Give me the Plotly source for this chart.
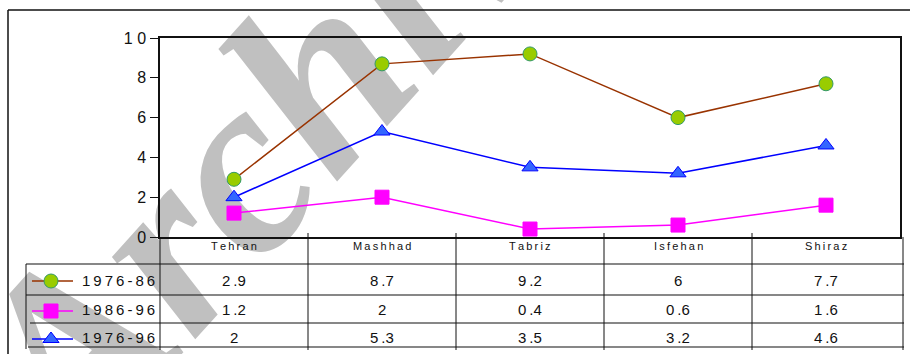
import plotly.graph_objects as go

W, H = 910, 354

cities = ["Tehran", "Mashhad", "Tabriz", "Isfehan", "Shiraz"]
periods = ["1976-86", "1986-96", "1976-96"]
growth_7686 = [2.9, 8.7, 9.2, 6, 7.7]
growth_8696 = [1.2, 2, 0.4, 0.6, 1.6]
growth_7696 = [2, 5.3, 3.5, 3.2, 4.6]
y_ticks = [0, 2, 4, 6, 8, 10]

series = [growth_7686, growth_8696, growth_7696]
line_colors = ["#993300", "#ff00ff", "#0000ff"]
marker_fills = ["#99cc00", "#ff00ff", "#3366ff"]
marker_edges = ["#339966", "#ff00ff", "#0000ff"]
symbols = ["circle", "square", "triangle-up"]
marker_sizes = [14, 14, 14]

THIN = "\u2009"


def px(x):
    return x / W


def py(y):
    return 1 - y / H


def spaced(s):
    return THIN.join(list(s))


def cell_text(v):
    s = f"{v:g}"
    return s.replace(".", THIN + ".")


fig = go.Figure()

for vals, lc, mf, me, sym, ms, name in zip(series, line_colors, marker_fills,
                                           marker_edges, symbols, marker_sizes, periods):
    fig.add_trace(go.Scatter(
        x=cities, y=vals, mode="lines+markers", name=name,
        line=dict(color=lc, width=1.5),
        marker=dict(symbol=sym, size=ms, color=mf, line=dict(color=me, width=1)),
        showlegend=False, cliponaxis=False,
    ))

# legend keys in the data table (pixel-space overlay axes)
key_rows = [281, 311, 339]
for lc, mf, me, sym, ms, ky in zip(line_colors, marker_fills, marker_edges,
                                  symbols, marker_sizes, key_rows):
    fig.add_trace(go.Scatter(
        x=[32, 73], y=[ky, ky], mode="lines", line=dict(color=lc, width=1.5),
        xaxis="x2", yaxis="y2", showlegend=False, hoverinfo="skip",
    ))
    fig.add_trace(go.Scatter(
        x=[51], y=[ky], mode="markers",
        marker=dict(symbol=sym, size=ms, color=mf, line=dict(color=me, width=1)),
        xaxis="x2", yaxis="y2", showlegend=False, hoverinfo="skip",
    ))

shapes = []

# watermark, drawn beneath everything else
wx, wy = 268, 88
shapes.append(dict(
    type="rect", xref="paper", yref="paper", layer="below",
    x0=px(wx - 20), x1=px(wx + 20), y0=py(wy + 20), y1=py(wy - 20),
    line=dict(width=0), fillcolor="rgba(0,0,0,0)",
    label=dict(text="Archive", textangle=-48, textposition="middle center",
               font=dict(family="Liberation Serif", size=255, color="#c0c0c0",
                         weight="bold", style="italic")),
))

# outer frame
shapes.append(dict(type="line", xref="paper", yref="paper",
                   x0=px(8), x1=px(910), y0=py(10), y1=py(10),
                   line=dict(color="#111111", width=1.5)))
shapes.append(dict(type="line", xref="paper", yref="paper",
                   x0=px(8), x1=px(8), y0=py(10), y1=py(354),
                   line=dict(color="#111111", width=1.5)))

# data table grid
tc = "#111111"
for y, x0 in [(264, 26), (295, 26), (323, 30), (347, 28)]:
    shapes.append(dict(type="line", xref="paper", yref="paper",
                       x0=px(x0), x1=px(904), y0=py(y), y1=py(y),
                       line=dict(color=tc, width=1.2)))
shapes.append(dict(type="line", xref="paper", yref="paper",
                   x0=px(26), x1=px(26), y0=py(264), y1=py(349),
                   line=dict(color=tc, width=1)))
shapes.append(dict(type="line", xref="paper", yref="paper",
                   x0=px(160), x1=px(160), y0=py(237), y1=py(350),
                   line=dict(color=tc, width=1)))
shapes.append(dict(type="line", xref="paper", yref="paper",
                   x0=px(903), x1=px(903), y0=py(237), y1=py(350),
                   line=dict(color=tc, width=1)))
for i in range(len(cities) - 1):
    shapes.append(dict(type="line", xref="x", yref="paper",
                       x0=i + 0.5, x1=i + 0.5, y0=py(233), y1=py(350),
                       line=dict(color=tc, width=1)))

annotations = []
for c in cities:
    annotations.append(dict(
        x=c, xref="x", y=py(246), yref="paper", text=spaced(c),
        showarrow=False, font=dict(family="Liberation Sans", size=11, color="#111111"),
        xanchor="center", yanchor="middle",
    ))

row_y = [280, 309, 337.5]
for name, vals, ry in zip(periods, series, row_y):
    annotations.append(dict(
        x=px(157), xref="paper", y=py(ry), yref="paper", text=spaced(name),
        showarrow=False, font=dict(family="Liberation Sans", size=15, color="#111111"),
        xanchor="right", yanchor="middle",
    ))
    for c, v in zip(cities, vals):
        annotations.append(dict(
            x=c, xref="x", y=py(ry), yref="paper", text=cell_text(v),
            showarrow=False, font=dict(family="Liberation Sans", size=15, color="#111111"),
            xanchor="center", yanchor="middle",
        ))

fig.update_layout(
    template="none",
    width=W, height=H, autosize=False,
    margin=dict(l=0, r=0, t=0, b=0, pad=0, autoexpand=False),
    paper_bgcolor="white",
    plot_bgcolor="rgba(0,0,0,0)",
    showlegend=False,
    xaxis=dict(
        domain=[px(160), px(900)], range=[-0.5, 4.5], type="category",
        categoryorder="array", categoryarray=cities, automargin=False,
        showticklabels=False, ticks="", showgrid=False, zeroline=False,
        showline=True, mirror=True, linecolor="#111111", linewidth=1.5,
    ),
    yaxis=dict(
        domain=[py(237), py(38)], range=[0, 10], automargin=False,
        tickvals=y_ticks, ticktext=["0", "2", "4", "6", "8", "1 0"],
        ticks="outside", ticklen=8, tickcolor="#111111", tickwidth=1,
        tickfont=dict(family="Liberation Sans", size=16, color="#111111"),
        ticklabelstandoff=1,
        showgrid=False, zeroline=False,
        showline=True, mirror=True, linecolor="#111111", linewidth=1.5,
    ),
    xaxis2=dict(domain=[0, 1], range=[0, W], visible=False, anchor="y2",
                automargin=False),
    yaxis2=dict(domain=[0, 1], range=[H, 0], visible=False, anchor="x2",
                automargin=False),
    shapes=shapes,
    annotations=annotations,
)

fig.write_html("out.html")
